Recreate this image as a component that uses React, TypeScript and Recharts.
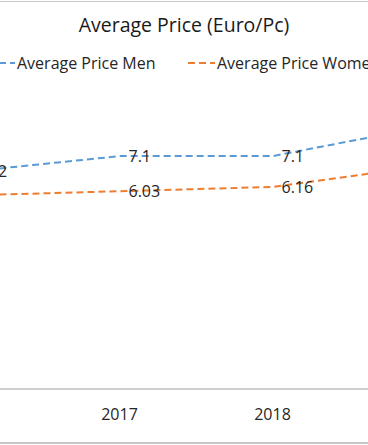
import React from 'react';
import { LineChart, Line, XAxis, YAxis, LabelList } from 'recharts';

// ── Data ──────────────────────────────────────────────────────────────────────

const years = ['2016', '2017', '2018', '2019'];
const menPrice = [6.62, 7.1, 7.1, 8.0];
const womenPrice = [5.9, 6.03, 6.16, 6.8];
const seriesNames = ['Average Price Men', 'Average Price Women'];
const title = 'Average Price (Euro/Pc)';

const MEN_COLOUR = '#5B9BD5';
const WOMEN_COLOUR = '#ED7D31';
const TEXT_COLOUR = '#262626';
const FONT = '"Open Sans", "Noto Sans", sans-serif';
const DASH = '7 4';

const data = years.map((y, i) => ({ year: y, men: menPrice[i], women: womenPrice[i] }));

// ── Label to the right of each point ──────────────────────────────────────────

function RightLabel(props: any) {
  const { x, y, value } = props;
  return (
    <text
      x={x + 9}
      y={y}
      dy="0.35em"
      textAnchor="start"
      fontSize={16}
      fontFamily={FONT}
      fill={TEXT_COLOUR}
    >
      {value}
    </text>
  );
}

function LegendItem({ colour, label, left }: { colour: string; label: string; left: number }) {
  return (
    <div style={{ position: 'absolute', left, top: 52, display: 'flex', alignItems: 'center', whiteSpace: 'nowrap' }}>
      <svg width={29} height={22}>
        <line x1={0} x2={27} y1={11} y2={11} stroke={colour} strokeWidth={2} strokeDasharray={DASH} />
      </svg>
      <span style={{ fontSize: 16, color: TEXT_COLOUR, fontFamily: FONT, lineHeight: '22px' }}>{label}</span>
    </div>
  );
}

export default function App() {
  return (
    <div
      style={{
        position: 'fixed',
        left: 0,
        top: 0,
        width: 368,
        height: 445,
        overflow: 'hidden',
        background: '#FFFFFF',
      }}
    >
      <div style={{ position: 'absolute', left: 0, right: 0, top: 1, height: 1, background: '#C8C8C8' }} />
      <div style={{ position: 'absolute', left: 0, right: 0, top: 442, height: 2, background: '#C8C8C8' }} />

      <div
        style={{
          position: 'absolute',
          left: 0,
          width: 368,
          top: 11,
          textAlign: 'center',
          fontSize: 19.5,
          fontFamily: FONT,
          color: '#1A1A1A',
          lineHeight: '28px',
        }}
      >
        {title}
      </div>

      <LegendItem colour={MEN_COLOUR} label={seriesNames[0]} left={-12} />
      <LegendItem colour={WOMEN_COLOUR} label={seriesNames[1]} left={188} />

      <div style={{ position: 'absolute', left: -110.5, top: 0 }}>
        <LineChart width={612} height={445} data={data} margin={{ top: 61, right: 0, bottom: 26, left: 0 }}>
          <XAxis
            dataKey="year"
            height={30}
            padding={{ left: 76.5, right: 76.5 }}
            axisLine={{ stroke: '#BFBFBF', strokeWidth: 1.5 }}
            tickLine={false}
            tick={{ fontSize: 16, fill: TEXT_COLOUR, fontFamily: FONT }}
            tickMargin={14}
          />
          <YAxis hide domain={[0, 10]} />
          <Line
            dataKey="men"
            stroke={MEN_COLOUR}
            strokeWidth={2}
            strokeDasharray={DASH}
            dot={false}
            isAnimationActive={false}
          >
            <LabelList dataKey="men" content={<RightLabel />} />
          </Line>
          <Line
            dataKey="women"
            stroke={WOMEN_COLOUR}
            strokeWidth={2}
            strokeDasharray={DASH}
            dot={false}
            isAnimationActive={false}
          >
            <LabelList dataKey="women" content={<RightLabel />} />
          </Line>
        </LineChart>
      </div>
    </div>
  );
}
